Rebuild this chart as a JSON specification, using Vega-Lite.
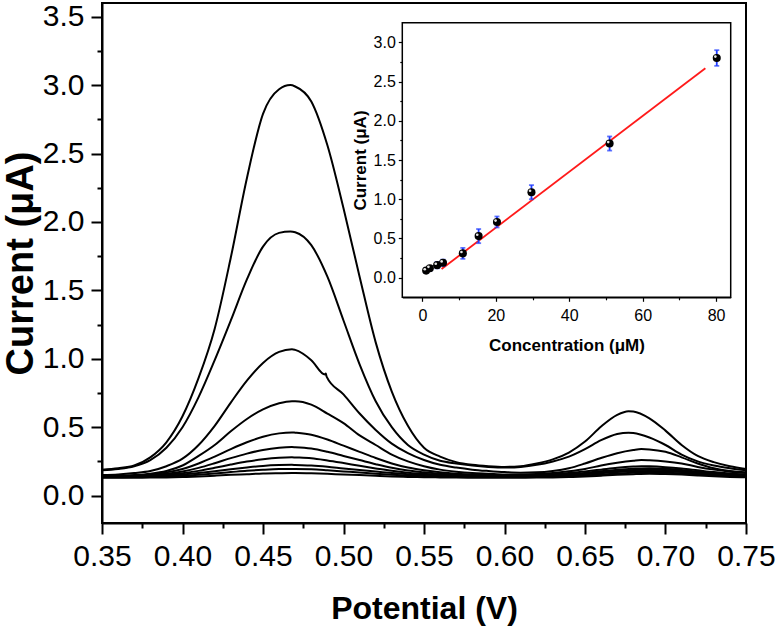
{
  "$schema": "https://vega.github.io/schema/vega-lite/v6.json",
  "width": 644,
  "height": 520,
  "autosize": "none",
  "padding": {"left": 102, "top": 3, "right": 36, "bottom": 108},
  "datasets": {
    "curves": [
      {"c":1,"v":0.35,"i":0.19},{"c":1,"v":0.36,"i":0.2},{"c":1,"v":0.37,"i":0.22},{"c":1,"v":0.38,"i":0.28},{"c":1,"v":0.39,"i":0.39},{"c":1,"v":0.4,"i":0.58},{"c":1,"v":0.41,"i":0.86},{"c":1,"v":0.42,"i":1.22},{"c":1,"v":0.43,"i":1.74},{"c":1,"v":0.44,"i":2.32},{"c":1,"v":0.45,"i":2.79},{"c":1,"v":0.46,"i":2.97},{"c":1,"v":0.467,"i":3.0},{"c":1,"v":0.47,"i":2.99},{"c":1,"v":0.48,"i":2.88},{"c":1,"v":0.49,"i":2.56},{"c":1,"v":0.5,"i":2.1},{"c":1,"v":0.51,"i":1.6},{"c":1,"v":0.52,"i":1.12},{"c":1,"v":0.53,"i":0.76},{"c":1,"v":0.54,"i":0.51},{"c":1,"v":0.55,"i":0.35},{"c":1,"v":0.56,"i":0.285},{"c":1,"v":0.57,"i":0.245},{"c":1,"v":0.58,"i":0.225},{"c":1,"v":0.59,"i":0.215},{"c":1,"v":0.6,"i":0.21},{"c":1,"v":0.61,"i":0.215},{"c":1,"v":0.62,"i":0.235},{"c":1,"v":0.63,"i":0.265},{"c":1,"v":0.64,"i":0.315},{"c":1,"v":0.65,"i":0.395},{"c":1,"v":0.66,"i":0.505},{"c":1,"v":0.67,"i":0.59},{"c":1,"v":0.677,"i":0.617},{"c":1,"v":0.68,"i":0.615},{"c":1,"v":0.69,"i":0.565},{"c":1,"v":0.7,"i":0.475},{"c":1,"v":0.71,"i":0.37},{"c":1,"v":0.72,"i":0.29},{"c":1,"v":0.73,"i":0.245},{"c":1,"v":0.74,"i":0.215},{"c":1,"v":0.75,"i":0.195},
      {"c":2,"v":0.35,"i":0.185},{"c":2,"v":0.36,"i":0.195},{"c":2,"v":0.37,"i":0.215},{"c":2,"v":0.38,"i":0.26},{"c":2,"v":0.39,"i":0.35},{"c":2,"v":0.4,"i":0.5},{"c":2,"v":0.41,"i":0.72},{"c":2,"v":0.42,"i":0.99},{"c":2,"v":0.43,"i":1.28},{"c":2,"v":0.44,"i":1.58},{"c":2,"v":0.45,"i":1.82},{"c":2,"v":0.46,"i":1.92},{"c":2,"v":0.467,"i":1.93},{"c":2,"v":0.47,"i":1.925},{"c":2,"v":0.48,"i":1.83},{"c":2,"v":0.49,"i":1.6},{"c":2,"v":0.5,"i":1.28},{"c":2,"v":0.51,"i":0.96},{"c":2,"v":0.52,"i":0.69},{"c":2,"v":0.53,"i":0.5},{"c":2,"v":0.54,"i":0.37},{"c":2,"v":0.55,"i":0.3},{"c":2,"v":0.56,"i":0.255},{"c":2,"v":0.57,"i":0.235},{"c":2,"v":0.58,"i":0.22},{"c":2,"v":0.59,"i":0.21},{"c":2,"v":0.6,"i":0.205},{"c":2,"v":0.61,"i":0.21},{"c":2,"v":0.62,"i":0.225},{"c":2,"v":0.63,"i":0.25},{"c":2,"v":0.64,"i":0.285},{"c":2,"v":0.65,"i":0.34},{"c":2,"v":0.66,"i":0.405},{"c":2,"v":0.67,"i":0.45},{"c":2,"v":0.677,"i":0.46},{"c":2,"v":0.68,"i":0.458},{"c":2,"v":0.69,"i":0.425},{"c":2,"v":0.7,"i":0.37},{"c":2,"v":0.71,"i":0.3},{"c":2,"v":0.72,"i":0.25},{"c":2,"v":0.73,"i":0.22},{"c":2,"v":0.74,"i":0.2},{"c":2,"v":0.75,"i":0.185},
      {"c":3,"v":0.35,"i":0.15},{"c":3,"v":0.36,"i":0.155},{"c":3,"v":0.37,"i":0.165},{"c":3,"v":0.38,"i":0.18},{"c":3,"v":0.39,"i":0.215},{"c":3,"v":0.4,"i":0.27},{"c":3,"v":0.41,"i":0.37},{"c":3,"v":0.42,"i":0.51},{"c":3,"v":0.43,"i":0.68},{"c":3,"v":0.44,"i":0.84},{"c":3,"v":0.45,"i":0.97},{"c":3,"v":0.46,"i":1.05},{"c":3,"v":0.468,"i":1.07},{"c":3,"v":0.47,"i":1.065},{"c":3,"v":0.48,"i":0.99},{"c":3,"v":0.4885,"i":0.885},{"c":3,"v":0.489,"i":0.892},{"c":3,"v":0.4895,"i":0.87},{"c":3,"v":0.5,"i":0.74},{"c":3,"v":0.51,"i":0.6},{"c":3,"v":0.52,"i":0.48},{"c":3,"v":0.53,"i":0.38},{"c":3,"v":0.54,"i":0.31},{"c":3,"v":0.55,"i":0.26},{"c":3,"v":0.56,"i":0.225},{"c":3,"v":0.57,"i":0.205},{"c":3,"v":0.58,"i":0.19},{"c":3,"v":0.59,"i":0.18},{"c":3,"v":0.6,"i":0.172},{"c":3,"v":0.61,"i":0.168},{"c":3,"v":0.62,"i":0.17},{"c":3,"v":0.63,"i":0.18},{"c":3,"v":0.64,"i":0.2},{"c":3,"v":0.65,"i":0.235},{"c":3,"v":0.66,"i":0.275},{"c":3,"v":0.67,"i":0.31},{"c":3,"v":0.68,"i":0.333},{"c":3,"v":0.685,"i":0.34},{"c":3,"v":0.69,"i":0.338},{"c":3,"v":0.7,"i":0.32},{"c":3,"v":0.71,"i":0.28},{"c":3,"v":0.72,"i":0.235},{"c":3,"v":0.73,"i":0.2},{"c":3,"v":0.74,"i":0.18},{"c":3,"v":0.75,"i":0.17},
      {"c":4,"v":0.35,"i":0.14},{"c":4,"v":0.36,"i":0.145},{"c":4,"v":0.37,"i":0.15},{"c":4,"v":0.38,"i":0.16},{"c":4,"v":0.39,"i":0.18},{"c":4,"v":0.4,"i":0.22},{"c":4,"v":0.41,"i":0.29},{"c":4,"v":0.42,"i":0.37},{"c":4,"v":0.43,"i":0.47},{"c":4,"v":0.44,"i":0.56},{"c":4,"v":0.45,"i":0.63},{"c":4,"v":0.46,"i":0.675},{"c":4,"v":0.468,"i":0.69},{"c":4,"v":0.47,"i":0.69},{"c":4,"v":0.48,"i":0.665},{"c":4,"v":0.49,"i":0.6},{"c":4,"v":0.5,"i":0.53},{"c":4,"v":0.51,"i":0.44},{"c":4,"v":0.52,"i":0.37},{"c":4,"v":0.53,"i":0.3},{"c":4,"v":0.54,"i":0.25},{"c":4,"v":0.55,"i":0.215},{"c":4,"v":0.56,"i":0.19},{"c":4,"v":0.57,"i":0.175},{"c":4,"v":0.58,"i":0.165},{"c":4,"v":0.59,"i":0.16},{"c":4,"v":0.6,"i":0.155},{"c":4,"v":0.61,"i":0.155},{"c":4,"v":0.62,"i":0.158},{"c":4,"v":0.63,"i":0.165},{"c":4,"v":0.64,"i":0.178},{"c":4,"v":0.65,"i":0.195},{"c":4,"v":0.66,"i":0.22},{"c":4,"v":0.67,"i":0.24},{"c":4,"v":0.68,"i":0.255},{"c":4,"v":0.685,"i":0.26},{"c":4,"v":0.69,"i":0.258},{"c":4,"v":0.7,"i":0.25},{"c":4,"v":0.71,"i":0.235},{"c":4,"v":0.72,"i":0.21},{"c":4,"v":0.73,"i":0.19},{"c":4,"v":0.74,"i":0.175},{"c":4,"v":0.75,"i":0.165},
      {"c":5,"v":0.35,"i":0.14},{"c":5,"v":0.36,"i":0.14},{"c":5,"v":0.37,"i":0.145},{"c":5,"v":0.38,"i":0.155},{"c":5,"v":0.39,"i":0.17},{"c":5,"v":0.4,"i":0.195},{"c":5,"v":0.41,"i":0.235},{"c":5,"v":0.42,"i":0.285},{"c":5,"v":0.43,"i":0.34},{"c":5,"v":0.44,"i":0.39},{"c":5,"v":0.45,"i":0.43},{"c":5,"v":0.46,"i":0.455},{"c":5,"v":0.468,"i":0.462},{"c":5,"v":0.47,"i":0.46},{"c":5,"v":0.48,"i":0.445},{"c":5,"v":0.49,"i":0.41},{"c":5,"v":0.5,"i":0.365},{"c":5,"v":0.51,"i":0.32},{"c":5,"v":0.52,"i":0.275},{"c":5,"v":0.53,"i":0.235},{"c":5,"v":0.54,"i":0.205},{"c":5,"v":0.55,"i":0.185},{"c":5,"v":0.56,"i":0.17},{"c":5,"v":0.57,"i":0.16},{"c":5,"v":0.58,"i":0.155},{"c":5,"v":0.59,"i":0.15},{"c":5,"v":0.6,"i":0.15},{"c":5,"v":0.61,"i":0.15},{"c":5,"v":0.62,"i":0.152},{"c":5,"v":0.63,"i":0.157},{"c":5,"v":0.64,"i":0.165},{"c":5,"v":0.65,"i":0.177},{"c":5,"v":0.66,"i":0.19},{"c":5,"v":0.67,"i":0.203},{"c":5,"v":0.68,"i":0.212},{"c":5,"v":0.685,"i":0.215},{"c":5,"v":0.69,"i":0.214},{"c":5,"v":0.7,"i":0.208},{"c":5,"v":0.71,"i":0.198},{"c":5,"v":0.72,"i":0.185},{"c":5,"v":0.73,"i":0.172},{"c":5,"v":0.74,"i":0.162},{"c":5,"v":0.75,"i":0.155},
      {"c":6,"v":0.35,"i":0.14},{"c":6,"v":0.36,"i":0.14},{"c":6,"v":0.37,"i":0.143},{"c":6,"v":0.38,"i":0.15},{"c":6,"v":0.39,"i":0.16},{"c":6,"v":0.4,"i":0.177},{"c":6,"v":0.41,"i":0.203},{"c":6,"v":0.42,"i":0.237},{"c":6,"v":0.43,"i":0.274},{"c":6,"v":0.44,"i":0.307},{"c":6,"v":0.45,"i":0.334},{"c":6,"v":0.46,"i":0.35},{"c":6,"v":0.468,"i":0.355},{"c":6,"v":0.47,"i":0.354},{"c":6,"v":0.48,"i":0.344},{"c":6,"v":0.49,"i":0.32},{"c":6,"v":0.5,"i":0.29},{"c":6,"v":0.51,"i":0.26},{"c":6,"v":0.52,"i":0.23},{"c":6,"v":0.53,"i":0.203},{"c":6,"v":0.54,"i":0.183},{"c":6,"v":0.55,"i":0.17},{"c":6,"v":0.56,"i":0.16},{"c":6,"v":0.57,"i":0.153},{"c":6,"v":0.58,"i":0.15},{"c":6,"v":0.59,"i":0.147},{"c":6,"v":0.6,"i":0.147},{"c":6,"v":0.61,"i":0.147},{"c":6,"v":0.62,"i":0.148},{"c":6,"v":0.63,"i":0.152},{"c":6,"v":0.64,"i":0.158},{"c":6,"v":0.65,"i":0.166},{"c":6,"v":0.66,"i":0.178},{"c":6,"v":0.67,"i":0.19},{"c":6,"v":0.68,"i":0.197},{"c":6,"v":0.69,"i":0.2},{"c":6,"v":0.7,"i":0.196},{"c":6,"v":0.71,"i":0.188},{"c":6,"v":0.72,"i":0.176},{"c":6,"v":0.73,"i":0.165},{"c":6,"v":0.74,"i":0.155},{"c":6,"v":0.75,"i":0.15},
      {"c":7,"v":0.35,"i":0.14},{"c":7,"v":0.36,"i":0.14},{"c":7,"v":0.37,"i":0.142},{"c":7,"v":0.38,"i":0.147},{"c":7,"v":0.39,"i":0.153},{"c":7,"v":0.4,"i":0.164},{"c":7,"v":0.41,"i":0.181},{"c":7,"v":0.42,"i":0.203},{"c":7,"v":0.43,"i":0.227},{"c":7,"v":0.44,"i":0.249},{"c":7,"v":0.45,"i":0.266},{"c":7,"v":0.46,"i":0.277},{"c":7,"v":0.468,"i":0.28},{"c":7,"v":0.47,"i":0.279},{"c":7,"v":0.48,"i":0.273},{"c":7,"v":0.49,"i":0.257},{"c":7,"v":0.5,"i":0.238},{"c":7,"v":0.51,"i":0.218},{"c":7,"v":0.52,"i":0.199},{"c":7,"v":0.53,"i":0.181},{"c":7,"v":0.54,"i":0.168},{"c":7,"v":0.55,"i":0.16},{"c":7,"v":0.56,"i":0.153},{"c":7,"v":0.57,"i":0.149},{"c":7,"v":0.58,"i":0.147},{"c":7,"v":0.59,"i":0.144},{"c":7,"v":0.6,"i":0.144},{"c":7,"v":0.61,"i":0.144},{"c":7,"v":0.62,"i":0.145},{"c":7,"v":0.63,"i":0.148},{"c":7,"v":0.64,"i":0.153},{"c":7,"v":0.65,"i":0.16},{"c":7,"v":0.66,"i":0.17},{"c":7,"v":0.67,"i":0.18},{"c":7,"v":0.68,"i":0.187},{"c":7,"v":0.69,"i":0.19},{"c":7,"v":0.7,"i":0.187},{"c":7,"v":0.71,"i":0.18},{"c":7,"v":0.72,"i":0.17},{"c":7,"v":0.73,"i":0.16},{"c":7,"v":0.74,"i":0.152},{"c":7,"v":0.75,"i":0.147},
      {"c":8,"v":0.35,"i":0.138},{"c":8,"v":0.36,"i":0.139},{"c":8,"v":0.37,"i":0.141},{"c":8,"v":0.38,"i":0.144},{"c":8,"v":0.39,"i":0.148},{"c":8,"v":0.4,"i":0.155},{"c":8,"v":0.41,"i":0.165},{"c":8,"v":0.42,"i":0.178},{"c":8,"v":0.43,"i":0.193},{"c":8,"v":0.44,"i":0.206},{"c":8,"v":0.45,"i":0.217},{"c":8,"v":0.46,"i":0.223},{"c":8,"v":0.468,"i":0.225},{"c":8,"v":0.47,"i":0.224},{"c":8,"v":0.48,"i":0.22},{"c":8,"v":0.49,"i":0.211},{"c":8,"v":0.5,"i":0.199},{"c":8,"v":0.51,"i":0.188},{"c":8,"v":0.52,"i":0.176},{"c":8,"v":0.53,"i":0.165},{"c":8,"v":0.54,"i":0.157},{"c":8,"v":0.55,"i":0.152},{"c":8,"v":0.56,"i":0.148},{"c":8,"v":0.57,"i":0.145},{"c":8,"v":0.58,"i":0.144},{"c":8,"v":0.59,"i":0.143},{"c":8,"v":0.6,"i":0.143},{"c":8,"v":0.61,"i":0.143},{"c":8,"v":0.62,"i":0.144},{"c":8,"v":0.63,"i":0.146},{"c":8,"v":0.64,"i":0.15},{"c":8,"v":0.65,"i":0.156},{"c":8,"v":0.66,"i":0.164},{"c":8,"v":0.67,"i":0.172},{"c":8,"v":0.68,"i":0.178},{"c":8,"v":0.69,"i":0.18},{"c":8,"v":0.7,"i":0.178},{"c":8,"v":0.71,"i":0.172},{"c":8,"v":0.72,"i":0.164},{"c":8,"v":0.73,"i":0.156},{"c":8,"v":0.74,"i":0.149},{"c":8,"v":0.75,"i":0.145},
      {"c":9,"v":0.35,"i":0.135},{"c":9,"v":0.36,"i":0.135},{"c":9,"v":0.37,"i":0.136},{"c":9,"v":0.38,"i":0.138},{"c":9,"v":0.39,"i":0.141},{"c":9,"v":0.4,"i":0.145},{"c":9,"v":0.41,"i":0.153},{"c":9,"v":0.42,"i":0.162},{"c":9,"v":0.43,"i":0.172},{"c":9,"v":0.44,"i":0.182},{"c":9,"v":0.45,"i":0.189},{"c":9,"v":0.46,"i":0.194},{"c":9,"v":0.468,"i":0.195},{"c":9,"v":0.47,"i":0.195},{"c":9,"v":0.48,"i":0.192},{"c":9,"v":0.49,"i":0.185},{"c":9,"v":0.5,"i":0.177},{"c":9,"v":0.51,"i":0.169},{"c":9,"v":0.52,"i":0.16},{"c":9,"v":0.53,"i":0.153},{"c":9,"v":0.54,"i":0.147},{"c":9,"v":0.55,"i":0.143},{"c":9,"v":0.56,"i":0.141},{"c":9,"v":0.57,"i":0.139},{"c":9,"v":0.58,"i":0.138},{"c":9,"v":0.59,"i":0.137},{"c":9,"v":0.6,"i":0.137},{"c":9,"v":0.61,"i":0.137},{"c":9,"v":0.62,"i":0.138},{"c":9,"v":0.63,"i":0.14},{"c":9,"v":0.64,"i":0.143},{"c":9,"v":0.65,"i":0.148},{"c":9,"v":0.66,"i":0.155},{"c":9,"v":0.67,"i":0.162},{"c":9,"v":0.68,"i":0.167},{"c":9,"v":0.69,"i":0.17},{"c":9,"v":0.7,"i":0.168},{"c":9,"v":0.71,"i":0.163},{"c":9,"v":0.72,"i":0.156},{"c":9,"v":0.73,"i":0.149},{"c":9,"v":0.74,"i":0.143},{"c":9,"v":0.75,"i":0.139},
      {"c":10,"v":0.35,"i":0.13},{"c":10,"v":0.36,"i":0.13},{"c":10,"v":0.37,"i":0.131},{"c":10,"v":0.38,"i":0.132},{"c":10,"v":0.39,"i":0.133},{"c":10,"v":0.4,"i":0.136},{"c":10,"v":0.41,"i":0.14},{"c":10,"v":0.42,"i":0.146},{"c":10,"v":0.43,"i":0.152},{"c":10,"v":0.44,"i":0.157},{"c":10,"v":0.45,"i":0.162},{"c":10,"v":0.46,"i":0.164},{"c":10,"v":0.468,"i":0.165},{"c":10,"v":0.47,"i":0.165},{"c":10,"v":0.48,"i":0.163},{"c":10,"v":0.49,"i":0.159},{"c":10,"v":0.5,"i":0.154},{"c":10,"v":0.51,"i":0.15},{"c":10,"v":0.52,"i":0.145},{"c":10,"v":0.53,"i":0.14},{"c":10,"v":0.54,"i":0.137},{"c":10,"v":0.55,"i":0.135},{"c":10,"v":0.56,"i":0.133},{"c":10,"v":0.57,"i":0.132},{"c":10,"v":0.58,"i":0.131},{"c":10,"v":0.59,"i":0.131},{"c":10,"v":0.6,"i":0.131},{"c":10,"v":0.61,"i":0.131},{"c":10,"v":0.62,"i":0.132},{"c":10,"v":0.63,"i":0.133},{"c":10,"v":0.64,"i":0.136},{"c":10,"v":0.65,"i":0.14},{"c":10,"v":0.66,"i":0.146},{"c":10,"v":0.67,"i":0.152},{"c":10,"v":0.68,"i":0.157},{"c":10,"v":0.69,"i":0.16},{"c":10,"v":0.7,"i":0.158},{"c":10,"v":0.71,"i":0.154},{"c":10,"v":0.72,"i":0.148},{"c":10,"v":0.73,"i":0.142},{"c":10,"v":0.74,"i":0.137},{"c":10,"v":0.75,"i":0.134}
    ],
    "cal": [
      {"conc":1,"cur":0.09,"lo":0.06,"hi":0.12},
      {"conc":2,"cur":0.12,"lo":0.09,"hi":0.15},
      {"conc":4,"cur":0.16,"lo":0.12,"hi":0.2},
      {"conc":5.6,"cur":0.19,"lo":0.15,"hi":0.23},
      {"conc":11,"cur":0.31,"lo":0.24,"hi":0.38},
      {"conc":15.3,"cur":0.53,"lo":0.44,"hi":0.62},
      {"conc":20.3,"cur":0.71,"lo":0.64,"hi":0.78},
      {"conc":29.7,"cur":1.09,"lo":1.0,"hi":1.18},
      {"conc":51,"cur":1.71,"lo":1.62,"hi":1.8},
      {"conc":80.2,"cur":2.8,"lo":2.7,"hi":2.9}
    ],
    "fit": [
      {"conc":5.2,"cur":0.11},
      {"conc":77.1,"cur":2.67}
    ]
  },
  "layer": [
    {
      "data": {"name": "curves"},
      "mark": {"type": "line", "color": "black", "strokeWidth": 2, "interpolate": "monotone"},
      "encoding": {
        "x": {
          "field": "v", "type": "quantitative",
          "scale": {"domain": [0.35, 0.75], "nice": false, "zero": false},
          "axis": {
            "orient": "bottom", "values": [0.35, 0.4, 0.45, 0.5, 0.55, 0.6, 0.65, 0.7, 0.75],
            "format": ".2f", "labelFontSize": 30, "labelFlush": false, "labelOverlap": false,
            "labelPadding": 7, "tickSize": 11, "tickWidth": 2, "domainWidth": 2,
            "title": "Potential (V)", "titleFontSize": 32, "titleFontWeight": "bold",
            "titleY": 95, "titleBaseline": "alphabetic"
          }
        },
        "y": {
          "field": "i", "type": "quantitative",
          "scale": {"domain": [-0.2, 3.6], "nice": false, "zero": false},
          "axis": {
            "orient": "left", "values": [0, 0.5, 1, 1.5, 2, 2.5, 3, 3.5],
            "format": ".1f", "labelFontSize": 30, "labelFlush": false, "labelOverlap": false,
            "labelPadding": 7, "tickSize": 11, "tickWidth": 2, "domainWidth": 2,
            "title": "Current (μA)", "titleFontSize": 38, "titleFontWeight": "bold",
            "titleX": -70, "titleBaseline": "alphabetic"
          }
        },
        "detail": {"field": "c", "type": "nominal"}
      }
    },
    {
      "data": {"name": "fit"},
      "mark": {"type": "point", "opacity": 0},
      "encoding": {
        "x": {
          "field": "cur", "type": "quantitative",
          "scale": {"domain": [0.35, 0.75], "nice": false, "zero": false},
          "axis": {
            "orient": "bottom", "values": [0.375, 0.425, 0.475, 0.525, 0.575, 0.625, 0.675, 0.725],
            "labels": false, "domain": false, "tickSize": 5, "tickWidth": 2, "title": null
          }
        },
        "y": {
          "field": "cur", "type": "quantitative",
          "scale": {"domain": [-0.2, 3.6], "nice": false, "zero": false},
          "axis": {
            "orient": "left", "values": [0.25, 0.75, 1.25, 1.75, 2.25, 2.75, 3.25],
            "labels": false, "domain": false, "tickSize": 5, "tickWidth": 2, "title": null
          }
        }
      }
    },
    {
      "data": {"values": [{}]},
      "mark": {"type": "rect", "fill": "white", "stroke": "black", "strokeWidth": 1.5},
      "encoding": {
        "x": {"datum": -5.5, "type": "quantitative", "scale": {"domain": [-5.5, 84], "range": [300.3, 628.7], "nice": false, "zero": false}, "axis": null},
        "x2": {"datum": 84},
        "y": {"datum": -0.25, "type": "quantitative", "scale": {"domain": [-0.25, 3.25], "range": [294.3, 19.7], "nice": false, "zero": false}, "axis": null},
        "y2": {"datum": 3.25}
      }
    },
    {
      "data": {"name": "fit"},
      "mark": {"type": "line", "color": "#ff1a1a", "strokeWidth": 1.8},
      "encoding": {
        "x": {
          "field": "conc", "type": "quantitative",
          "scale": {"domain": [-5.5, 84], "range": [300.3, 628.7], "nice": false, "zero": false},
          "axis": {
            "orient": "bottom", "offset": -225.7, "values": [0, 20, 40, 60, 80],
            "labelFontSize": 16, "labelFlush": false, "labelPadding": 6, "tickSize": 4,
            "tickWidth": 1.2, "domainWidth": 1.5,
            "title": "Concentration (μM)", "titleFontSize": 17, "titleFontWeight": "bold",
            "titleY": 53, "titleBaseline": "alphabetic"
          }
        },
        "y": {
          "field": "cur", "type": "quantitative",
          "scale": {"domain": [-0.25, 3.25], "range": [294.3, 19.7], "nice": false, "zero": false},
          "axis": {
            "orient": "left", "offset": -300.3, "values": [0, 0.5, 1, 1.5, 2, 2.5, 3],
            "format": ".1f", "labelFontSize": 16, "labelFlush": false, "labelPadding": 3,
            "tickSize": 4, "tickWidth": 1.2, "domainWidth": 1.5,
            "title": "Current (μA)", "titleFontSize": 17, "titleFontWeight": "bold",
            "titleX": -37, "titleBaseline": "alphabetic"
          }
        }
      }
    },
    {
      "data": {"name": "fit"},
      "mark": {"type": "point", "opacity": 0},
      "encoding": {
        "x": {
          "field": "conc", "type": "quantitative",
          "scale": {"domain": [-5.5, 84], "range": [300.3, 628.7], "nice": false, "zero": false},
          "axis": {
            "orient": "bottom", "offset": -225.7, "values": [10, 30, 50, 70],
            "labels": false, "domain": false, "tickSize": 2.5, "tickWidth": 1.2, "title": null
          }
        },
        "y": {
          "field": "cur", "type": "quantitative",
          "scale": {"domain": [-0.25, 3.25], "range": [294.3, 19.7], "nice": false, "zero": false},
          "axis": {
            "orient": "left", "offset": -300.3, "values": [0.25, 0.75, 1.25, 1.75, 2.25, 2.75],
            "labels": false, "domain": false, "tickSize": 2.5, "tickWidth": 1.2, "title": null
          }
        }
      }
    },
    {
      "data": {"name": "cal"},
      "mark": {"type": "errorbar", "ticks": true, "color": "#1f3cff", "thickness": 1.8},
      "encoding": {
        "x": {"field": "conc", "type": "quantitative", "scale": {"domain": [-5.5, 84], "range": [300.3, 628.7], "nice": false, "zero": false}, "axis": null},
        "y": {"field": "lo", "type": "quantitative", "scale": {"domain": [-0.25, 3.25], "range": [294.3, 19.7], "nice": false, "zero": false}, "axis": null},
        "y2": {"field": "hi"}
      }
    },
    {
      "data": {"name": "cal"},
      "mark": {"type": "point", "filled": true, "color": "black", "size": 65, "opacity": 1},
      "encoding": {
        "x": {"field": "conc", "type": "quantitative", "scale": {"domain": [-5.5, 84], "range": [300.3, 628.7], "nice": false, "zero": false}, "axis": null},
        "y": {"field": "cur", "type": "quantitative", "scale": {"domain": [-0.25, 3.25], "range": [294.3, 19.7], "nice": false, "zero": false}, "axis": null}
      }
    },
    {
      "data": {"name": "cal"},
      "mark": {"type": "point", "filled": true, "color": "white", "size": 7, "opacity": 0.9, "xOffset": -1.4, "yOffset": -1.4},
      "encoding": {
        "x": {"field": "conc", "type": "quantitative", "scale": {"domain": [-5.5, 84], "range": [300.3, 628.7], "nice": false, "zero": false}, "axis": null},
        "y": {"field": "cur", "type": "quantitative", "scale": {"domain": [-0.25, 3.25], "range": [294.3, 19.7], "nice": false, "zero": false}, "axis": null}
      }
    }
  ],
  "resolve": {
    "scale": {"x": "independent", "y": "independent"},
    "axis": {"x": "independent", "y": "independent"}
  },
  "config": {
    "font": "Liberation Sans",
    "view": {"stroke": "black", "strokeWidth": 2},
    "axis": {
      "grid": false,
      "labelFont": "Liberation Sans",
      "titleFont": "Liberation Sans",
      "labelColor": "black",
      "titleColor": "black",
      "domainColor": "black",
      "tickColor": "black"
    }
  }
}
